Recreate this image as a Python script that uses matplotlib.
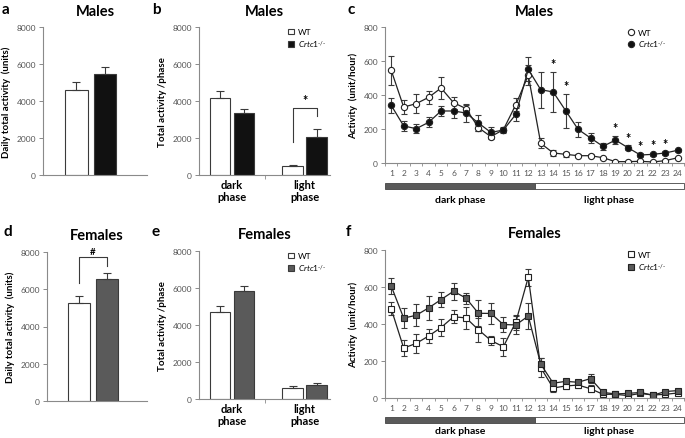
import numpy as np
import matplotlib
matplotlib.use("Agg")
import matplotlib.pyplot as plt
from matplotlib.patches import Rectangle
from matplotlib.lines import Line2D

plt.rcParams['font.family'] = ['Lato', 'DejaVu Sans']
plt.rcParams['mathtext.fontset'] = 'custom'
plt.rcParams['mathtext.it'] = 'Lato:italic'
plt.rcParams['mathtext.rm'] = 'Lato'

##################################################
# data
##################################################
groups = ["WT", "Crtc1-/-"]
phases = ["dark\nphase", "light\nphase"]
hours = np.arange(1, 25)

# a / d : daily total activity
male_daily = [4600, 5480]
male_daily_err = [420, 370]
female_daily = [5270, 6560]
female_daily_err = [390, 320]

# b / e : activity per phase  (WT, KO) x (dark, light)
male_phase_wt = [4170, 470]
male_phase_wt_err = [370, 60]
male_phase_ko = [3360, 2080]
male_phase_ko_err = [230, 380]
female_phase_wt = [4700, 570]
female_phase_wt_err = [340, 120]
female_phase_ko = [5820, 760]
female_phase_ko_err = [310, 90]

# c : males hourly
male_wt = [545, 329, 349, 386, 441, 355, 320, 208, 155, 196, 343, 516,
           116, 59, 51, 43, 43, 31, 8, 8, 10, 6, 14, 31]
male_wt_err = [85, 43, 55, 38, 65, 35, 30, 22, 15, 12, 40, 60,
               30, 15, 15, 8, 8, 5, 4, 4, 4, 4, 4, 4]
male_ko = [339, 218, 202, 239, 306, 306, 294, 235, 180, 194, 286, 551,
           431, 418, 308, 198, 147, 98, 135, 90, 47, 51, 59, 75]
male_ko_err = [45, 30, 25, 30, 30, 40, 50, 45, 30, 15, 40, 70,
               105, 120, 100, 45, 28, 20, 25, 15, 10, 10, 10, 10]
male_sig_hours = [14, 15, 19, 20, 21, 22, 23]

# f : females hourly
female_wt = [482, 270, 295, 335, 381, 439, 433, 369, 311, 277, 410, 653,
             164, 54, 65, 70, 50, 20, 20, 13, 25, 16, 20, 27]
female_wt_err = [35, 45, 50, 40, 45, 35, 60, 65, 25, 50, 40, 45,
                 50, 20, 15, 15, 20, 8, 5, 5, 5, 5, 5, 5]
female_ko = [605, 432, 447, 487, 532, 577, 540, 458, 457, 397, 395, 443,
             183, 80, 90, 85, 105, 30, 22, 25, 30, 15, 35, 40]
female_ko_err = [45, 55, 60, 65, 40, 45, 30, 70, 55, 40, 50, 70,
                 35, 15, 15, 10, 25, 10, 5, 5, 5, 5, 5, 5]

##################################################
# style
##################################################
W, H = 685, 439
edge = "#3a3a3a"
spine = "#8a8a8a"
tickc = "#555555"
male_fill = "#111111"
female_fill = "#5a5a5a"
ko_label = r"$\mathit{Crtc1}^{\text{-/-}}$"

fig = plt.figure(figsize=(W / 100, H / 100), dpi=100)


def px_axes(l, t, r, b):
    return fig.add_axes([l / W, 1 - b / H, (r - l) / W, (b - t) / H])


def style(ax, ymax, step, ylabel):
    for s in ["top", "right"]:
        ax.spines[s].set_visible(False)
    for s in ["left", "bottom"]:
        ax.spines[s].set_color(spine)
        ax.spines[s].set_linewidth(0.8)
    ax.set_ylim(0, ymax)
    ax.set_yticks(np.arange(0, ymax + 1, step))
    ax.tick_params(axis="y", direction="out", length=3, width=0.7,
                   color=spine, labelsize=6, labelcolor=tickc, pad=2)
    ax.set_ylabel(ylabel, fontsize=7, fontweight="bold", labelpad=4)


def daily_panel(ax, vals, errs, kofill, title):
    x = np.arange(2)
    ax.bar(x, vals, width=0.8, color=["white", kofill], edgecolor=edge,
           linewidth=0.8, yerr=[[0, 0], errs], capsize=3,
           error_kw=dict(ecolor=edge, elinewidth=0.8, capthick=0.8))
    ax.set_xlim(-1.17, 2.47)
    ax.set_xticks([])
    style(ax, 8000, 2000, "Daily total activity  (units)")
    ax.set_title(title, fontsize=10.5, fontweight="bold", pad=9)
    return x


def phase_panel(ax, wt, wte, ko, koe, kofill, title):
    x = np.arange(2)
    off, w = 0.166, 0.28
    ekw = dict(ecolor=edge, elinewidth=0.8, capthick=0.8)
    ax.bar(x - off, wt, width=w, color="white", edgecolor=edge, linewidth=0.8,
           yerr=[[0, 0], wte], capsize=3, error_kw=ekw, label="WT")
    ax.bar(x + off, ko, width=w, color=kofill, edgecolor=edge, linewidth=0.8,
           yerr=[[0, 0], koe], capsize=3, error_kw=ekw, label=ko_label)
    ax.set_xlim(-0.455, 1.35)
    style(ax, 8000, 2000, "Total activity /phase")
    ax.set_xticks(x)
    ax.set_xticklabels(phases, fontsize=8, fontweight="bold", linespacing=1.1)
    ax.tick_params(axis="x", which="major", length=0, pad=3)
    ax.set_xticks([0.448], minor=True)
    ax.tick_params(axis="x", which="minor", length=3, color=spine, direction="out")
    ax.legend(loc="upper right", bbox_to_anchor=(1.02, 1.03), frameon=False,
              fontsize=6, handlelength=0.7, handleheight=0.7, handletextpad=0.5,
              labelspacing=0.3, borderpad=0.2)
    ax.set_title(title, fontsize=10.5, fontweight="bold", pad=9)
    return x, off


def hourly_panel(ax, wt, wte, ko, koe, marker, kofill, title, bar_y, text_y):
    ekw = dict(ecolor=edge, elinewidth=0.8, capsize=2.5, capthick=0.8)
    ax.errorbar(hours, wt, yerr=wte, color="#222222", lw=0.9, marker=marker,
                ms=4.5, mfc="white", mec="#222222", mew=0.8, label="WT", **ekw)
    ax.errorbar(hours, ko, yerr=koe, color="#222222", lw=0.9, marker=marker,
                ms=4.5, mfc=kofill, mec="#222222", mew=0.8, label=ko_label, **ekw)
    ax.set_xlim(0.5, 24.5)
    style(ax, 800, 200, "Activity  (unit/hour)")
    ax.set_xticks(hours)
    ax.tick_params(axis="x", which="major", length=0, labelsize=6,
                   labelcolor=tickc, pad=4)
    ax.set_xticks(np.arange(0.5, 25, 1), minor=True)
    ax.tick_params(axis="x", which="minor", length=2.5, color=spine, direction="out")
    tr = ax.get_xaxis_transform()
    ax.add_patch(Rectangle((0.5, bar_y), 12, 0.042, transform=tr, clip_on=False,
                           facecolor="#5a5a5a", edgecolor="#444444", lw=0.6))
    ax.add_patch(Rectangle((12.5, bar_y), 12, 0.042, transform=tr, clip_on=False,
                           facecolor="white", edgecolor="#444444", lw=0.6))
    ax.text(6.5, text_y, "dark phase", transform=tr, ha="center", va="center",
            fontsize=7.5, fontweight="bold")
    ax.text(18.5, text_y, "light phase", transform=tr, ha="center", va="center",
            fontsize=7.5, fontweight="bold")
    h = [Line2D([], [], ls="none", marker=marker, ms=4.5, mfc="white", mec="#222222", mew=0.8),
         Line2D([], [], ls="none", marker=marker, ms=4.5, mfc=kofill, mec="#222222", mew=0.8)]
    ax.legend(h, ["WT", ko_label], loc="upper right", bbox_to_anchor=(0.96, 1.03),
              frameon=False, fontsize=6, handlelength=0.8, handletextpad=0.4,
              labelspacing=0.3, borderpad=0.2)
    ax.set_title(title, fontsize=10.5, fontweight="bold", pad=9)


##################################################
# panels
##################################################
ax_a = px_axes(43, 28, 147, 176)
daily_panel(ax_a, male_daily, male_daily_err, male_fill, "Males")

ax_b = px_axes(199, 28, 330, 176)
xb, off = phase_panel(ax_b, male_phase_wt, male_phase_wt_err, male_phase_ko,
                      male_phase_ko_err, male_fill, "Males")
# significance bracket, light phase
ax_b.plot([xb[1] - off, xb[1] - off, xb[1] + off, xb[1] + off],
          [1770, 3610, 3610, 3180], color=edge, lw=0.8)
ax_b.text(xb[1], 3750, "*", ha="center", va="bottom", fontsize=9, fontweight="bold")

ax_c = px_axes(385, 28, 684, 164)
hourly_panel(ax_c, male_wt, male_wt_err, male_ko, male_ko_err, "o", male_fill,
             "Males", -0.19, -0.27)
for hr in male_sig_hours:
    i = hr - 1
    ax_c.text(hr, male_ko[i] + male_ko_err[i] + 8, "*", ha="center", va="bottom",
              fontsize=9, fontweight="bold")

ax_d = px_axes(47, 253, 147, 402)
xd = daily_panel(ax_d, female_daily, female_daily_err, female_fill, "Females")
ax_d.plot([xd[0], xd[0], xd[1], xd[1]], [6330, 7730, 7730, 7250], color=edge, lw=0.8)
ax_d.text(0.5, 7800, "#", ha="center", va="bottom", fontsize=7, fontweight="bold")

ax_e = px_axes(199, 252, 330, 400)
phase_panel(ax_e, female_phase_wt, female_phase_wt_err, female_phase_ko,
            female_phase_ko_err, female_fill, "Females")

ax_f = px_axes(385, 251, 684, 399)
hourly_panel(ax_f, female_wt, female_wt_err, female_ko, female_ko_err, "s", female_fill,
             "Females", -0.17, -0.22)

# panel letters
for letter, (px, py) in zip("abcdef", [(2, 10), (152, 10), (348, 10),
                                      (4, 232), (152, 232), (346, 232)]):
    fig.text(px / W, 1 - py / H, letter, fontsize=11, fontweight="bold",
             ha="left", va="center")

fig.savefig("out.png", dpi=100)
